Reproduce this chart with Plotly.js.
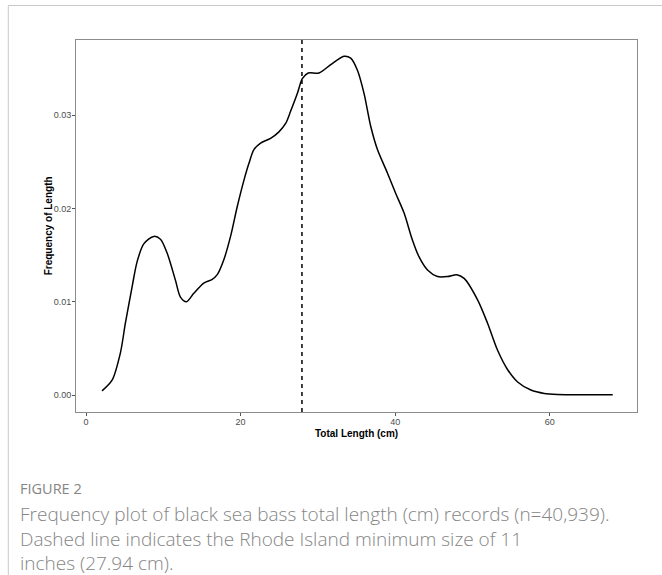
<!DOCTYPE html>
<html>
<head>
<meta charset="utf-8">
<script src="https://cdn.plot.ly/plotly-3.0.1.min.js"></script>
<style>
  html, body { margin: 0; padding: 0; background: #ffffff; }
  #chart { width: 662px; height: 575px; }
</style>
</head>
<body>
<div id="chart"></div>
<script>
// Total length (cm) and density ("frequency of length")
const lengthCm = [2.07, 3.37, 4.44, 5.09, 5.96, 6.61, 7.47, 8.76, 9.63, 10.5, 11.57, 12.22, 13.0, 13.94, 15.24, 16.33, 16.98, 17.83, 18.7, 19.57, 20.43, 21.07, 21.72, 22.59, 23.88, 24.96, 25.83, 26.47, 27.34, 27.99, 28.75, 30.14, 31.66, 33.38, 34.25, 35.12, 35.98, 36.84, 37.71, 39.0, 40.08, 41.16, 42.2, 43.1, 44.19, 45.48, 46.78, 47.98, 48.93, 50.67, 51.96, 53.26, 54.5, 55.85, 57.57, 59.3, 61.03, 64.0, 68.16];
const frequency = [0.00046, 0.0016, 0.0045, 0.0077, 0.0116, 0.0143, 0.0162, 0.0170, 0.0167, 0.0152, 0.0123, 0.0105, 0.0100, 0.0109, 0.0120, 0.0124, 0.0129, 0.0145, 0.0170, 0.0202, 0.0230, 0.0248, 0.0263, 0.0270, 0.0275, 0.0282, 0.0291, 0.0304, 0.0323, 0.0339, 0.0345, 0.0345, 0.0354, 0.0363, 0.0361, 0.0348, 0.0323, 0.0288, 0.0263, 0.0238, 0.0216, 0.0195, 0.0167, 0.0148, 0.0134, 0.0127, 0.0127, 0.0129, 0.0125, 0.0102, 0.0077, 0.0048, 0.0028, 0.0014, 0.00054, 0.00018, 0.00007, 0.00003, 0.00003];
const minimumSizeCm = 27.94;

const xTickVals = [0, 20, 40, 60];
const xTickText = ["0", "20", "40", "60"];
const yTickVals = [0.00, 0.01, 0.02, 0.03];
const yTickText = ["0.00", "0.01", "0.02", "0.03"];

const xTitle = "Total Length (cm)";
const yTitle = "Frequency of Length";
const figureLabel = "FIGURE 2";
const captionLines = [
  "Frequency plot of black sea bass total length (cm) records (n=40,939).",
  "Dashed line indicates the Rhode Island minimum size of 11",
  "inches (27.94 cm)."
];

// layout geometry (pixels)
const W = 662, H = 575;
const plotL = 75.7, plotR = 636.7, plotT = 40, plotB = 412;
const pw = plotR - plotL, ph = plotB - plotT;
const px2x = p => (p - plotL) / pw;
const py2y = p => (plotB - p) / ph;

const trace = {
  x: lengthCm,
  y: frequency,
  type: "scatter",
  mode: "lines",
  line: { color: "#000000", width: 1.5, shape: "spline", smoothing: 0.8 },
  hoverinfo: "skip",
  showlegend: false
};

const tickFont = { family: "Liberation Sans, Arial, sans-serif", size: 9, color: "#4d4d4d" };
const titleFont = { family: "Liberation Sans, Arial, sans-serif", size: 10, color: "#000000", weight: "bold" };
const capFont = { family: "Open Sans, sans-serif", size: 19, color: "#858585", weight: 300 };

const annotations = [
  { text: "<b>" + xTitle + "</b>", xref: "paper", yref: "paper", x: px2x(356), y: py2y(433), xanchor: "center", yanchor: "middle", showarrow: false, font: titleFont },
  { text: "<b>" + yTitle + "</b>", xref: "paper", yref: "paper", x: px2x(48), y: py2y(226), xanchor: "center", yanchor: "middle", textangle: -90, showarrow: false, font: titleFont },
  { text: figureLabel, xref: "paper", yref: "paper", x: px2x(18), y: py2y(488), xanchor: "left", yanchor: "middle", showarrow: false, font: { family: "Open Sans, sans-serif", size: 14.5, color: "#858585" } }
];
const lineYs = [514, 539, 563];
captionLines.forEach((t, i) => {
  annotations.push({ text: t, xref: "paper", yref: "paper", x: px2x(18), y: py2y(lineYs[i]), xanchor: "left", yanchor: "middle", showarrow: false, font: capFont });
});

const shapes = [
  { type: "line", xref: "x", yref: "paper", x0: minimumSizeCm, x1: minimumSizeCm, y0: 0, y1: 1, line: { color: "#000000", width: 1.5, dash: "4px,4px" } },
  // outer figure frame (top and left)
  { type: "line", xref: "paper", yref: "paper", x0: px2x(8), x1: px2x(662), y0: py2y(5.5), y1: py2y(5.5), line: { color: "#c8c8c8", width: 1 } },
  { type: "line", xref: "paper", yref: "paper", x0: px2x(8), x1: px2x(8), y0: py2y(5.5), y1: py2y(575), line: { color: "#c8c8c8", width: 1 } }
];

const layout = {
  width: W, height: H,
  margin: { l: plotL, r: W - plotR, t: plotT, b: H - plotB, pad: 0 },
  paper_bgcolor: "#ffffff",
  plot_bgcolor: "#ffffff",
  showlegend: false,
  xaxis: {
    range: [-1.3, 71.3],
    tickvals: xTickVals, ticktext: xTickText,
    ticks: "outside", ticklen: 3, tickwidth: 1, tickcolor: "#555555",
    tickfont: tickFont, ticklabelstandoff: -2,
    showgrid: false, zeroline: false,
    showline: true, mirror: true, linecolor: "#8c8c8c", linewidth: 1
  },
  yaxis: {
    range: [-0.00181, 0.03804],
    tickvals: yTickVals, ticktext: yTickText,
    ticks: "outside", ticklen: 3, tickwidth: 1, tickcolor: "#555555",
    tickfont: tickFont, ticklabelstandoff: -1,
    showgrid: false, zeroline: false,
    showline: true, mirror: true, linecolor: "#8c8c8c", linewidth: 1
  },
  annotations: annotations,
  shapes: shapes
};

Plotly.newPlot("chart", [trace], layout, { displayModeBar: false, staticPlot: true });
</script>
</body>
</html>
